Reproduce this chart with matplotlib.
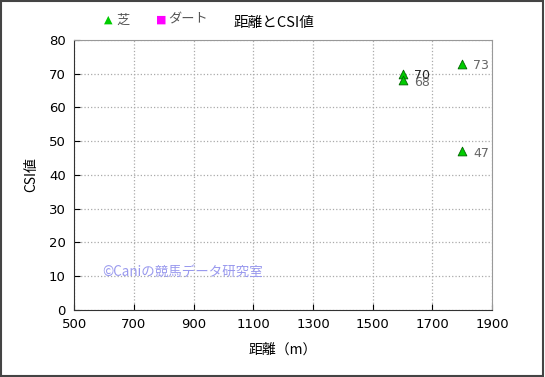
import matplotlib
matplotlib.use("Agg")
import matplotlib.pyplot as plt
from matplotlib.patches import Rectangle

plt.rcParams['font.family'] = ['Noto Sans CJK JP', 'DejaVu Sans']

# --- data ---
turf_dist = [1600, 1600, 1800, 1800]
turf_csi = [70, 68, 73, 47]
dirt_dist = []
dirt_csi = []
x_ticks = [500, 700, 900, 1100, 1300, 1500, 1700, 1900]
y_ticks = [0, 10, 20, 30, 40, 50, 60, 70, 80]

fig = plt.figure(figsize=(5.45, 3.77), dpi=100)
ax = fig.add_axes([0.136, 0.178, 0.767, 0.716])

ax.scatter(turf_dist, turf_csi, marker="^", s=40, color="#00cc00",
           edgecolors="#006600", linewidths=0.6, zorder=3)
ax.scatter(dirt_dist, dirt_csi, marker="s", s=30, color="#ff00ff", zorder=3)

for i, (d, v) in enumerate(zip(turf_dist, turf_csi)):
    col = "#222222" if i == 0 else "#666666"
    ax.annotate(str(v), (d, v), xytext=(8, -4), textcoords="offset points",
                fontsize=9, color=col, family=["DejaVu Sans"])

ax.set_xlim(500, 1900)
ax.set_ylim(0, 80)
ax.set_xticks(x_ticks)
ax.set_yticks(y_ticks)
ax.tick_params(direction="in", length=4, labelsize=9.5, pad=6)
for lab in ax.get_xticklabels() + ax.get_yticklabels():
    lab.set_family(["DejaVu Sans"])
ax.grid(True, color="#aaaaaa", linestyle=":", linewidth=0.9)
for s in ["top", "right"]:
    ax.spines[s].set_color("#999999")
for s in ["left", "bottom"]:
    ax.spines[s].set_color("#333333")

ax.set_xlabel("距離（m）", fontsize=10, labelpad=8)
ax.set_ylabel("CSI値", fontsize=10, labelpad=8)

fig.text(0.503, 0.94, "距離とCSI値", ha="center", va="center", fontsize=10.5)

# legend placed in the top-left corner
fig.text(0.198, 0.947, "▲", color="#00cc00", fontsize=8, ha="center", va="center",
         family=["DejaVu Sans"])
fig.text(0.213, 0.947, "芝", color="#555555", fontsize=9.5, ha="left", va="center")
fig.text(0.296, 0.947, "■", color="#ff00ff", fontsize=8, ha="center", va="center",
         family=["DejaVu Sans"])
fig.text(0.309, 0.947, "ダート", color="#555555", fontsize=9.5, ha="left", va="center")

ax.text(0.067, 0.14, "©Caniの競馬データ研究室", transform=ax.transAxes,
        color="#9999ee", fontsize=9.7, va="center")

fig.patches.append(Rectangle((0.002, 0.003), 0.995, 0.994, transform=fig.transFigure,
                             fill=False, edgecolor="#444444", linewidth=1.5))

fig.savefig("out.png", dpi=100, facecolor="white")
